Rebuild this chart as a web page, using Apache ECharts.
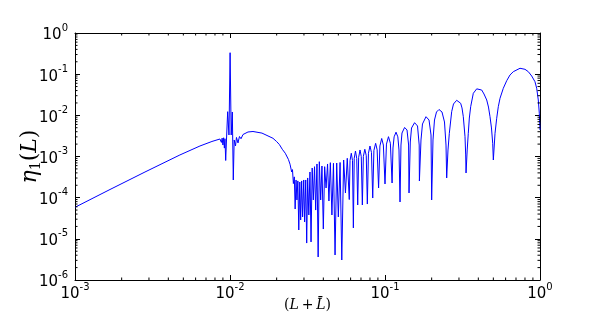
<!DOCTYPE html>
<html><head><meta charset="utf-8">
<script src="https://cdn.jsdelivr.net/npm/echarts@6/dist/echarts.min.js"></script>
<style>html,body{margin:0;padding:0;background:#fff}#c{width:599px;height:326px}</style>
</head><body><div id="c"></div>
<script>
// ---- data (x = L+Lbar, y = eta_1(L)) ----
const rampX = [0.001, 0.001682, 0.002828, 0.00475, 0.0064, 0.00765, 0.00861];
const rampY = [5.84e-5, 1.58e-4, 4.2e-4, 1.09e-3, 1.80e-3, 2.32e-3, 2.66e-3];

const spikeX = [0.0088, 0.0089, 0.0090, 0.0091, 0.0092, 0.00928, 0.00938, 0.00949, 0.00966, 0.00985, 0.010015, 0.01018, 0.01035, 0.0105, 0.01064, 0.01085, 0.01101, 0.01126, 0.01151, 0.01178, 0.01213];
const spikeY = [2.2e-3, 2.8e-3, 1.9e-3, 2.85e-3, 1.6e-3, 2.7e-3, 8.0e-4, 2.52e-3, 1.226e-2, 3.33e-3, 0.332, 3.33e-3, 1.205e-2, 2.69e-4, 2.52e-3, 1.80e-3, 2.90e-3, 2.13e-3, 3.06e-3, 2.7e-3, 3.42e-3];

const humpX = [0.01306, 0.01407, 0.01608, 0.01894, 0.0200, 0.02083, 0.0212, 0.02174, 0.0220, 0.02273, 0.0230, 0.02381, 0.0241, 0.02439, 0.0247, 0.0250, 0.0253, 0.02564, 0.0260];
const humpY = [3.94e-3, 4.05e-3, 3.7e-3, 2.77e-3, 2.3e-3, 1.95e-3, 1.85e-3, 1.5e-3, 1.6e-3, 1.2e-3, 1.25e-3, 8.5e-4, 9.0e-4, 6.5e-4, 7.0e-4, 4.2e-4, 4.8e-4, 2.2e-4, 3.2e-4];

const fringeX = [0.02632, 0.02667, 0.02703, 0.0274, 0.02778, 0.0282, 0.02857, 0.029, 0.02941, 0.0299, 0.0303, 0.0308, 0.03125, 0.0317, 0.03226, 0.0328, 0.03333, 0.0339, 0.03448, 0.0351, 0.03571, 0.0364, 0.03704, 0.0377, 0.03846, 0.0392, 0.04, 0.0408, 0.04167, 0.0426, 0.04348, 0.0444, 0.04545, 0.0465, 0.04762, 0.0488, 0.05, 0.0513, 0.05263, 0.0541, 0.05556, 0.0571, 0.05882, 0.0595, 0.0606, 0.0617, 0.0625, 0.0633, 0.0645, 0.0657, 0.06667, 0.0676, 0.069, 0.0703, 0.07143, 0.0725, 0.0741, 0.0757, 0.07692, 0.0782, 0.08, 0.0818, 0.08333, 0.0848, 0.087, 0.089, 0.09091, 0.0927, 0.0952, 0.0976, 0.1, 0.1022, 0.1053, 0.1083, 0.1111];
const fringeY = [5.3e-5, 2.69e-4, 8.8e-5, 2.55e-4, 1.64e-5, 2.40e-4, 2.87e-5, 2.55e-4, 3.4e-5, 2.69e-4, 2.57e-5, 2.69e-4, 7.9e-6, 3.01e-4, 3.8e-5, 4.2e-4, 8.4e-6, 5.26e-4, 8.8e-5, 5.66e-4, 5.0e-5, 6.58e-4, 3.62e-6, 7.48e-4, 8.8e-5, 5.88e-4, 1.73e-5, 5.66e-4, 1.72e-4, 6.58e-4, 8.3e-5, 7.08e-4, 3.79e-5, 6.84e-4, 4.05e-6, 6.95e-4, 3.4e-5, 7.16e-4, 3.06e-6, 8.22e-4, 1.3e-4, 9.05e-4, 9.0e-5, 8.0e-4, 1.2e-3, 8.0e-4, 1.84e-5, 9.0e-4, 1.36e-3, 9.0e-4, 6.64e-5, 9.5e-4, 1.44e-3, 1.0e-3, 6.64e-5, 1.0e-3, 1.5e-3, 1.05e-3, 7.0e-5, 1.2e-3, 1.8e-3, 1.25e-3, 9.8e-5, 1.4e-3, 2.09e-3, 1.45e-3, 1.72e-4, 1.8e-3, 2.74e-3, 1.9e-3, 2.15e-4, 2.0e-3, 3.03e-3, 2.1e-3, 2.27e-4];

const archX = [0.1126, 0.1145, 0.1178, 0.121, 0.1231, 0.125, 0.1268, 0.1287, 0.1338, 0.1387, 0.1420, 0.1429, 0.1456, 0.1483, 0.1552, 0.1621, 0.1662, 0.1667, 0.1707, 0.1745, 0.1839, 0.1923, 0.1981, 0.2, 0.2040, 0.2086, 0.2149, 0.2230, 0.2332, 0.2420, 0.2475, 0.25, 0.2549, 0.2600, 0.2693, 0.2766, 0.2900, 0.2980, 0.3078, 0.3139, 0.3200, 0.3282, 0.3316, 0.3333, 0.3391, 0.3446, 0.3500, 0.3571, 0.3713, 0.3905, 0.4010, 0.4206, 0.4352, 0.4531, 0.4651, 0.4758, 0.4863, 0.4953, 0.5, 0.5126, 0.5256, 0.5383, 0.5520, 0.5798, 0.6099, 0.6404, 0.6725, 0.743, 0.8000, 0.8406, 0.8841, 0.928, 0.9521, 0.975, 0.9897, 1.0];
const archY = [1.61e-3, 3.0e-3, 3.90e-3, 3.0e-3, 1.44e-3, 7.85e-5, 1.9e-3, 3.72e-3, 5.07e-3, 4.40e-3, 1.9e-3, 1.30e-4, 2.25e-3, 4.92e-3, 6.63e-3, 5.51e-3, 1.9e-3, 2.54e-4, 2.52e-3, 6.16e-3, 9.27e-3, 7.7e-3, 3.33e-3, 8.78e-5, 2.52e-3, 7.7e-3, 1.205e-2, 1.387e-2, 1.205e-2, 6.89e-3, 1.9e-3, 3.01e-4, 1.44e-3, 3.66e-3, 1.226e-2, 1.886e-2, 2.32e-2, 2.29e-2, 1.96e-2, 1.51e-2, 9.27e-3, 3.03e-3, 1.09e-3, 3.98e-4, 1.44e-3, 3.66e-3, 8.6e-3, 1.62e-2, 3.43e-2, 4.4e-2, 4.63e-2, 4.12e-2, 3.3e-2, 2.36e-2, 1.59e-2, 9.27e-3, 4.93e-3, 2.09e-3, 8.22e-4, 3.66e-3, 8.48e-3, 1.62e-2, 2.59e-2, 4.54e-2, 6.94e-2, 9.55e-2, 0.1148, 0.139, 0.1313, 0.115, 0.0902, 0.0656, 0.0454, 0.0236, 0.01122, 4.40e-3];

const xDecades = [0.001, 0.01, 0.1];
const yDecades = [1e-6, 1e-5, 1e-4, 1e-3, 1e-2, 1e-1];
const minorFactors = [2, 3, 4, 5, 6, 7, 8, 9];
const X_MIN = 0.001, X_MAX = 1, Y_MIN = 1e-6, Y_MAX = 1;

// ---- build ----
const lineData = [];
[[rampX, rampY], [spikeX, spikeY], [humpX, humpY], [fringeX, fringeY], [archX, archY]]
  .forEach(([xs, ys]) => xs.forEach((x, i) => lineData.push([x, ys[i]])));

const xMinor = [], yMinor = [];
xDecades.forEach(d => minorFactors.forEach(f => xMinor.push(d * f)));
yDecades.forEach(d => minorFactors.forEach(f => yMinor.push(d * f)));

const FONT = 'DejaVu Sans';
const labelRich = {
  b: { fontFamily: FONT, fontSize: 15, color: '#000', lineHeight: 20, verticalAlign: 'bottom' },
  s: { fontFamily: FONT, fontSize: 10, color: '#000', lineHeight: 10, verticalAlign: 'top' }
};
function supLabel(v) {
  const e = Math.round(Math.log10(v));
  return '{b|10}{s|' + (e < 0 ? '-' : '') + Math.abs(e) + '}';
}
const spine = { show: true, lineStyle: { color: '#000', width: 1 } };
const majorTick = { show: true, inside: true, length: 5, lineStyle: { color: '#000', width: 1 } };

function minorTicks(values, dir) {
  return {
    type: 'custom', coordinateSystem: 'cartesian2d', xAxisIndex: 0, yAxisIndex: 0,
    silent: true, clip: false, z: 5, animation: false,
    data: values.map(v => dir === 'x' ? [v, Y_MIN] : [X_MIN, v]),
    renderItem: function (params, api) {
      const L = 2.5;
      const style = { stroke: '#000', lineWidth: 1 };
      if (dir === 'x') {
        const v = api.value(0);
        const a = api.coord([v, Y_MIN]), b = api.coord([v, Y_MAX]);
        return { type: 'group', children: [
          { type: 'line', shape: { x1: a[0], y1: a[1], x2: a[0], y2: a[1] - L }, style: style },
          { type: 'line', shape: { x1: b[0], y1: b[1], x2: b[0], y2: b[1] + L }, style: style }
        ]};
      } else {
        const v = api.value(1);
        const a = api.coord([X_MIN, v]), b = api.coord([X_MAX, v]);
        return { type: 'group', children: [
          { type: 'line', shape: { x1: a[0], y1: a[1], x2: a[0] + L, y2: a[1] }, style: style },
          { type: 'line', shape: { x1: b[0], y1: b[1], x2: b[0] - L, y2: b[1] }, style: style }
        ]};
      }
    }
  };
}

const chart = echarts.init(document.getElementById('c'), null, { renderer: 'canvas' });
chart.setOption({
  animation: false,
  backgroundColor: '#fff',
  grid: { left: 75, top: 33, width: 465, height: 247, containLabel: false },
  xAxis: [
    { type: 'log', logBase: 10, min: X_MIN, max: X_MAX, position: 'bottom',
      axisLine: spine, axisTick: majorTick, splitLine: { show: false },
      axisLabel: { margin: 2, formatter: supLabel, rich: labelRich },
      name: '{p|(}{i|L}{p|\u2009+\u2009}{i|L\u0304}{p|)}', nameLocation: 'middle', nameGap: 17,
      nameMoveOverlap: false,
      nameTextStyle: { rich: {
        p: { fontFamily: 'DejaVu Serif', fontSize: 14, color: '#000', lineHeight: 17 },
        i: { fontFamily: 'DejaVu Serif', fontStyle: 'italic', fontSize: 14, color: '#000', lineHeight: 17 } } } },
    { type: 'log', logBase: 10, min: X_MIN, max: X_MAX, position: 'top',
      axisLine: spine, axisTick: majorTick, splitLine: { show: false }, axisLabel: { show: false } }
  ],
  yAxis: [
    { type: 'log', logBase: 10, min: Y_MIN, max: Y_MAX, position: 'left',
      axisLine: spine, axisTick: majorTick, splitLine: { show: false },
      axisLabel: { margin: 7, formatter: supLabel, rich: labelRich },
      name: '{i|\u03b7}{sub|1}{p|(}{i|L}{p|)}', nameLocation: 'middle', nameRotate: 90, nameGap: 32,
      nameMoveOverlap: false,
      nameTextStyle: { rich: {
        i: { fontFamily: 'DejaVu Serif', fontStyle: 'italic', fontSize: 22, color: '#000', lineHeight: 26, verticalAlign: 'middle' },
        p: { fontFamily: 'DejaVu Serif', fontSize: 22, color: '#000', lineHeight: 26, verticalAlign: 'middle' },
        sub: { fontFamily: 'DejaVu Serif', fontSize: 14, color: '#000', lineHeight: 15, verticalAlign: 'bottom' } } } },
    { type: 'log', logBase: 10, min: Y_MIN, max: Y_MAX, position: 'right',
      axisLine: spine, axisTick: majorTick, splitLine: { show: false }, axisLabel: { show: false } }
  ],
  series: [
    { type: 'line', xAxisIndex: 0, yAxisIndex: 0, data: lineData, showSymbol: false, symbol: 'none',
      lineStyle: { color: '#0000ff', width: 1 }, z: 3, silent: true },
    minorTicks(xMinor, 'x'),
    minorTicks(yMinor, 'y')
  ]
});
</script>
</body></html>
